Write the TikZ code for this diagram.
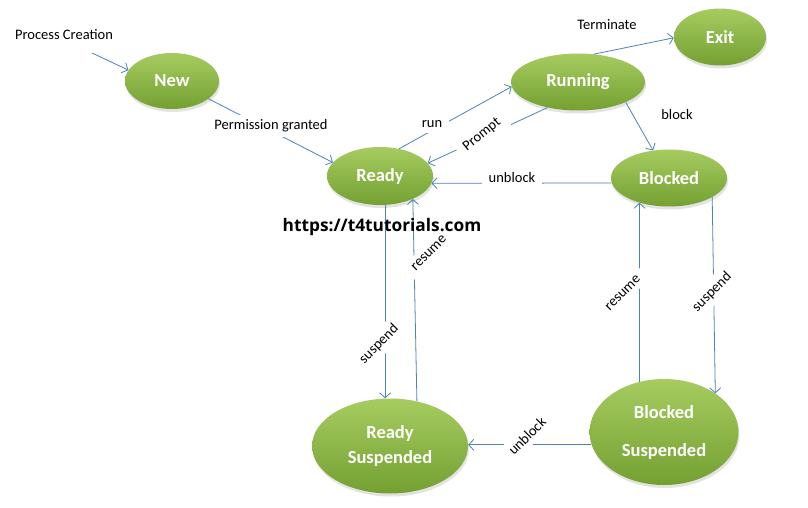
\documentclass[tikz,border=0pt]{standalone}
\usepackage{fontspec}
\setmainfont{Carlito}
\newfontfamily\sitefont{Open Sans}
\usetikzlibrary{arrows.meta,shapes.geometric,shadows}
\definecolor{leaf}{HTML}{A6CC60}
\definecolor{moss}{HTML}{74A032}
\definecolor{wire}{HTML}{4F81BD}

\begin{document}
\begin{tikzpicture}[x=1pt,y=-1pt,
    state/.style={ellipse,inner sep=0pt,top color=leaf,bottom color=moss,
                  text=white,align=center,font=\fontsize{18.5}{24}\selectfont\bfseries,
                  drop shadow={opacity=0.22,shadow xshift=1pt,shadow yshift=-3pt}},
    flow/.style={-{Straight Barb[length=5pt,width=11pt]},line width=0.8pt,wire},
    lbl/.style={fill=white,inner xsep=7pt,inner ysep=5pt,font=\fontsize{14.5}{17}\selectfont}]
  \fill[white] (0,0) rectangle (808,508);
  \useasboundingbox (0,0) rectangle (808,508);

  % states
  \node[state,minimum width=94pt,minimum height=56pt]  (new)     at (172,81)  {New};
  \node[state,minimum width=106pt,minimum height=58pt] (ready)   at (380,176) {Ready};
  \node[state,minimum width=134pt,minimum height=57pt] (running) at (578,82)  {Running};
  \node[state,minimum width=92pt,minimum height=57pt]  (exit)    at (720,37)  {Exit};
  \node[state,minimum width=116pt,minimum height=57pt] (blocked) at (669,178) {Blocked};
  \node[state,minimum width=156pt,minimum height=95pt] (rs)      at (390,446) {Ready\\[1pt]Suspended};
  \node[state,minimum width=149pt,minimum height=106pt] (bs)     at (664,432) {Blocked\\[14pt]Suspended};

  % transitions
  \coordinate (pcend) at (92,53);
  \draw[flow] (pcend) -- (new.166);
  \foreach \a/\b in {new.-26/ready.164, ready.55/running.184, running.220/ready.15,
                     running.60/exit.181, running.-23/blocked.120, blocked.185/ready.-8,
                     rs.59/ready.-35, blocked.-24/bs.37, bs.116/blocked.220}
    \draw[flow] (\a) -- (\b);
  \draw[flow] (ready.-80) -- (ready.-80 |- rs.north);
  \draw[flow] (bs.190) -- (bs.190 -| rs.east);

  % labels
  \node[lbl] (pclbl)   at (64,35)   {Process Creation};
  \node[lbl] (permlbl) at (271,126) {Permission granted};
  \node[lbl] (runlbl)  at (432,124) {run};
  \node[lbl,rotate=39] (promptlbl) at (482,135) {Prompt};
  \node[lbl] (termlbl)  at (607,25)  {Terminate};
  \node[lbl] (blocklbl) at (677,115) {block};
  \node[lbl] (unblbl)   at (512,178) {unblock};
  \node[lbl,rotate=45] (susplbl)  at (379,344) {suspend};
  \node[lbl,rotate=45] (reslbl)   at (429,253) {resume};
  \node[lbl,rotate=45] (bresLbl)  at (623,293) {resume};
  \node[lbl,rotate=45] (bsusplbl) at (712,292) {suspend};
  \node[lbl,rotate=45] (unb2lbl)  at (527,436) {unblock};

  \node[font=\sitefont\bfseries\fontsize{17.3}{19}\selectfont] (site) at (382,227) {https://t4tutorials.com};
\end{tikzpicture}
\end{document}
